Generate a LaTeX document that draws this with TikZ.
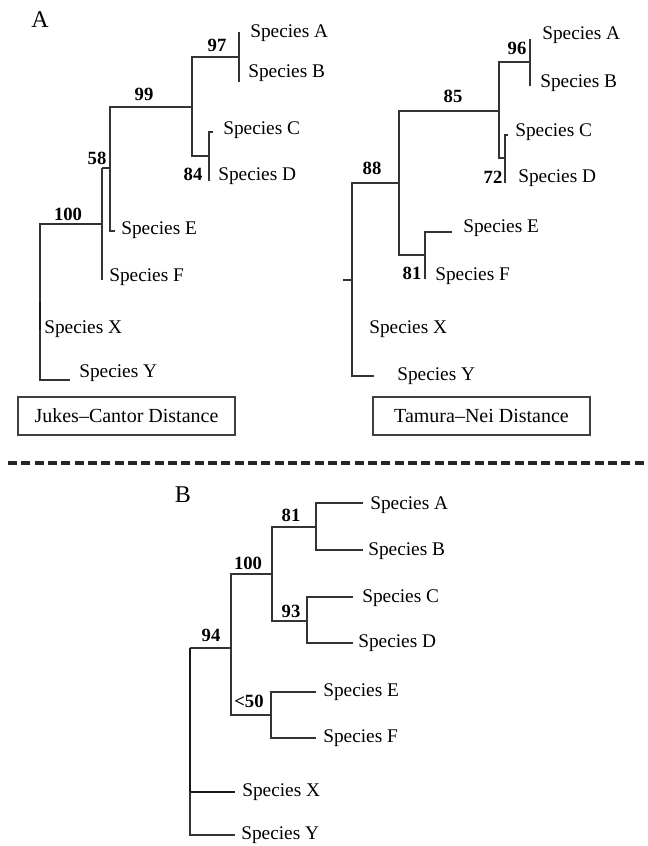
\documentclass[tikz,border=0pt]{standalone}
\usepackage{fontspec}
\setmainfont{Liberation Serif}
\begin{document}
\begin{tikzpicture}[x=0.75pt,y=-0.75pt,
  br/.style={line width=0.8pt,draw=black!80},
  thickbr/.style={line width=1.6pt,draw=black!90},
  sp/.style={anchor=west,inner sep=0pt,font=\fontsize{14.5}{16}\selectfont},
  bs/.style={inner sep=0pt,font=\fontsize{14}{16}\selectfont\bfseries},
  panel/.style={inner sep=0pt,font=\fontsize{18}{20}\selectfont},
  legend/.style={draw=black!75,line width=0.8pt,minimum width=162.75pt,
    minimum height=28.5pt,inner sep=0pt,font=\fontsize{15}{17}\selectfont},
  divider/.style={line width=2.6pt,draw=black!85,dash pattern=on 6.75pt off 3.25pt}]
\useasboundingbox (0,0) rectangle (648,846);

% ---------------- Panel A, left tree: Jukes-Cantor ----------------
\node[panel] (pA) at (40,20) {A};
\node[sp] (jcA) at (250,33) {Species A};
\node[sp] (jcB) at (248,73) {Species B};
\node[sp] (jcC) at (223,130) {Species C};
\node[sp] (jcD) at (218,176) {Species D};
\node[sp] (jcE) at (121,230) {Species E};
\node[sp] (jcF) at (109,277) {Species F};
\node[sp] (jcX) at (44,329) {Species X};
\node[sp] (jcY) at (79,373) {Species Y};

\coordinate (jtA) at (239,32);
\coordinate (jtB) at (239,82);
\coordinate (jnAB) at (239,57);
\coordinate (jnABCD) at (192,57);
\coordinate (jnABCDb) at (192,156);
\coordinate (jnCD) at (209,156);
\coordinate (jtC) at (213,132);
\coordinate (jtD) at (209,181);
\coordinate (jn99) at (110,107);
\coordinate (jtE) at (115,231);
\coordinate (jn58) at (102,168);
\coordinate (jtF) at (102,280);
\coordinate (jn100) at (40,224);
\coordinate (jXa) at (40,302);
\coordinate (jXb) at (40,330);
\coordinate (jtY) at (70,380);

\draw[br] (jtA) -- (jtB);
\draw[br] (jnAB) -- (jnABCD) -- (jnABCDb) -- (jnCD);
\draw[br] (jtC) -| (jtD);
\draw[br] (jnABCD |- jn99) -- (jn99) |- (jtE);
\draw[br] (jn58) -- (jn58 -| jn99);
\draw[br] (jn58) -- (jtF);
\draw[br] (jn58 |- jn100) -- (jn100) |- (jtY);
\draw[thickbr] (jXa) -- (jXb);

\node[bs] (b97) at (217,45) {97};
\node[bs] (b99) at (144,94) {99};
\node[bs] (b84) at (193,174) {84};
\node[bs] (b58) at (97,158) {58};
\node[bs] (b100) at (68,214) {100};

\node[legend] (jcbox) at (126.5,416) {Jukes–Cantor Distance};

% ---------------- Panel A, right tree: Tamura-Nei ----------------
\node[sp] (tnA) at (542,35) {Species A};
\node[sp] (tnB) at (540,83) {Species B};
\node[sp] (tnC) at (515,132) {Species C};
\node[sp] (tnD) at (518,178) {Species D};
\node[sp] (tnE) at (463,228) {Species E};
\node[sp] (tnF) at (435,276) {Species F};
\node[sp] (tnX) at (369,329) {Species X};
\node[sp] (tnY) at (397,376) {Species Y};

\coordinate (ttA) at (530,39);
\coordinate (ttB) at (530,86);
\coordinate (tnAB) at (530,62);
\coordinate (tn85) at (499,62);
\coordinate (tnCD) at (505,158);
\coordinate (ttC) at (508,135);
\coordinate (ttD) at (505,183);
\coordinate (tn88) at (399,111);
\coordinate (tnEF) at (425,255);
\coordinate (ttE) at (452,232);
\coordinate (ttF) at (425,279);
\coordinate (tnRoot) at (352,183);
\coordinate (ttY) at (374,376);
\coordinate (tRoot) at (343,280);

\draw[br] (ttA) -- (ttB);
\draw[br] (tnAB) -- (tn85) |- (tnCD);
\draw[br] (ttC) -| (ttD);
\draw[br] (tn85 |- tn88) -- (tn88) |- (tnEF);
\draw[br] (ttE) -| (ttF);
\draw[br] (tn88 |- tnRoot) -- (tnRoot) |- (ttY);
\draw[br] (tRoot) -- (tRoot -| tnRoot);

\node[bs] (b96) at (517,48) {96};
\node[bs] (b85) at (453,96) {85};
\node[bs] (b72) at (493,177) {72};
\node[bs] (b88) at (372,168) {88};
\node[bs] (b81a) at (412,273) {81};

\node[legend] (tnbox) at (481.5,416) {Tamura–Nei Distance};

% ---------------- separator ----------------
\coordinate (sepL) at (8,463);
\coordinate (sepR) at (648,463);
\draw[divider] (sepL) -- (sepR);

% ---------------- Panel B ----------------
\node[panel] (pB) at (183,495) {B};
\node[sp] (bA) at (370,505) {Species A};
\node[sp] (bB) at (368,551) {Species B};
\node[sp] (bC) at (362,598) {Species C};
\node[sp] (bD) at (358,643) {Species D};
\node[sp] (bE) at (323,692) {Species E};
\node[sp] (bF) at (323,738) {Species F};
\node[sp] (bX) at (242,792) {Species X};
\node[sp] (bY) at (241,835) {Species Y};

\coordinate (btA) at (363,503);
\coordinate (btB) at (363,550);
\coordinate (bnAB) at (316,527);
\coordinate (bn100) at (272,574);
\coordinate (bnCD) at (307,621);
\coordinate (btC) at (353,597);
\coordinate (btD) at (353,643);
\coordinate (bn94) at (231,648);
\coordinate (bnEF) at (271,715);
\coordinate (btE) at (316,692);
\coordinate (btF) at (316,738);
\coordinate (bRoot) at (190,648);
\coordinate (btX) at (235,792);
\coordinate (btY) at (235,835);

\draw[br] (btA) -| (bnAB) |- (btB);
\draw[br] (bnAB) -- (bn100 |- bnAB) |- (bnCD);
\draw[br] (btC) -| (bnCD) |- (btD);
\draw[br] (bn100) -- (bn94 |- bn100) |- (bnEF);
\draw[br] (btE) -| (bnEF) |- (btF);
\draw[br] (bn94) -- (bRoot);
\draw[thickbr] (bRoot) |- (btX);
\draw[br] (bRoot |- btX) |- (btY);

\node[bs] (b81b) at (291,515) {81};
\node[bs] (b100b) at (248,563) {100};
\node[bs] (b93) at (291,611) {93};
\node[bs] (b94) at (211,635) {94};
\node[bs] (b50) at (249,701) {<50};
\end{tikzpicture}
\end{document}
